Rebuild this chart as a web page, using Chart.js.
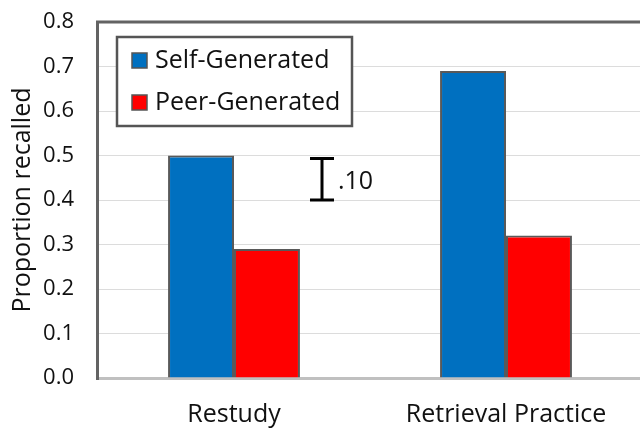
<!DOCTYPE html>
<html>
<head>
<meta charset="utf-8">
<script src="https://cdn.jsdelivr.net/npm/chart.js@4/dist/chart.umd.min.js"></script>
<style>
  html, body { margin: 0; padding: 0; background: #fff; overflow: hidden; }
  #wrap { width: 640px; height: 430px; overflow: hidden; }
</style>
</head>
<body>
<div id="wrap"><canvas id="c" width="646" height="430"></canvas></div>
<script>
// data
const categories = ['Restudy', 'Retrieval Practice'];
const selfGenerated = [0.50, 0.69];
const peerGenerated = [0.29, 0.32];
const yTicks = [0, 0.1, 0.2, 0.3, 0.4, 0.5, 0.6, 0.7, 0.8];
const scaleBar = { from: 0.4, to: 0.5, label: '.10' };

const FONT = "'Open Sans', 'Noto Sans', sans-serif";

// frame, legend box and the .10 scale bar
const extras = {
  id: 'extras',
  afterDraw(chart) {
    const ctx = chart.ctx, a = chart.chartArea;
    const y = chart.scales.y, x = chart.scales.x;
    ctx.save();
    // plot border left + top
    ctx.strokeStyle = '#636363';
    ctx.lineWidth = 3;
    ctx.beginPath();
    ctx.moveTo(a.left - 0.5, a.bottom + 2);
    ctx.lineTo(a.left - 0.5, a.top);
    ctx.lineTo(a.right + 4, a.top);
    ctx.stroke();

    // legend
    const lx = 117, ly = 37, lw = 235, lh = 89;
    ctx.fillStyle = '#fff';
    ctx.fillRect(lx, ly, lw, lh);
    ctx.strokeStyle = '#555';
    ctx.lineWidth = 2.5;
    ctx.strokeRect(lx, ly, lw, lh);
    ctx.font = '25px ' + FONT;
    ctx.textBaseline = 'middle';
    chart.data.datasets.forEach((ds, i) => {
      const cy = ly + 23 + i * 42;
      ctx.fillStyle = ds.backgroundColor;
      ctx.fillRect(lx + 15, cy - 7, 15, 15);
      ctx.strokeStyle = '#555';
      ctx.lineWidth = 1.5;
      ctx.strokeRect(lx + 15, cy - 7, 15, 15);
      ctx.fillStyle = '#111';
      ctx.textAlign = 'left';
      ctx.fillText(ds.label, lx + 38, cy + 1);
    });

    // scale bar
    const bx = x.getPixelForValue(0) + 88;
    const y1 = y.getPixelForValue(scaleBar.to), y0 = y.getPixelForValue(scaleBar.from);
    ctx.strokeStyle = '#000';
    ctx.lineWidth = 3;
    ctx.beginPath();
    ctx.moveTo(bx, y1 + 2); ctx.lineTo(bx, y0);
    ctx.moveTo(bx - 12, y1 + 3); ctx.lineTo(bx + 12, y1 + 3);
    ctx.moveTo(bx - 12, y0); ctx.lineTo(bx + 12, y0);
    ctx.stroke();
    ctx.fillStyle = '#111';
    ctx.font = '25px ' + FONT;
    ctx.textAlign = 'left';
    ctx.fillText(scaleBar.label, bx + 16, (y0 + y1) / 2 + 4);
    ctx.restore();
  }
};

new Chart(document.getElementById('c'), {
  type: 'bar',
  data: {
    labels: categories,
    datasets: [
      { label: 'Self-Generated', data: selfGenerated, backgroundColor: '#0070c0', borderColor: '#595959', borderWidth: 2 },
      { label: 'Peer-Generated', data: peerGenerated, backgroundColor: '#ff0000', borderColor: '#595959', borderWidth: 2 }
    ]
  },
  options: {
    responsive: false,
    animation: false,
    layout: { padding: { top: 22, right: 4, left: 8, bottom: 0 } },
    datasets: { bar: { barPercentage: 1, categoryPercentage: 0.485 } },
    plugins: { legend: { display: false }, tooltip: { enabled: false } },
    scales: {
      x: {
        grid: { display: false, drawTicks: false },
        border: { display: true, color: '#c0c0c0', width: 3 },
        ticks: { padding: 22, color: '#111', font: { family: FONT, size: 25 } },
        afterFit(s) { s.height = 52; s.paddingLeft = 0; s.paddingRight = 0; }
      },
      y: {
        min: 0, max: 0.8,
        afterBuildTicks(s) { s.ticks = yTicks.map(v => ({ value: v })); },
        grid: { color: '#dcdcdc', lineWidth: 1, drawTicks: false },
        border: { display: false },
        ticks: { padding: 24, color: '#111', font: { family: FONT, size: 22 }, callback: v => v.toFixed(1) },
        title: { display: true, text: 'Proportion recalled', color: '#111', font: { family: FONT, size: 25 }, padding: 0 },
        afterFit(s) { s.width = 90; s.paddingTop = 0; s.paddingBottom = 0; }
      }
    }
  },
  plugins: [extras]
});
</script>
</body>
</html>
